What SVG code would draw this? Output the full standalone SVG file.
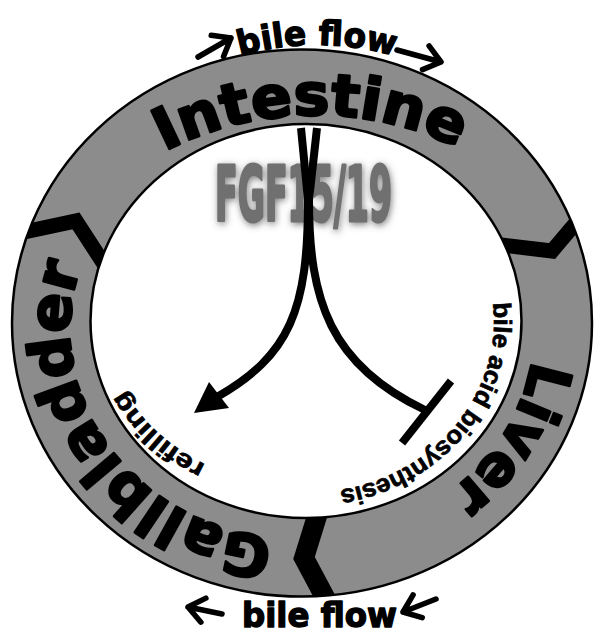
<svg xmlns="http://www.w3.org/2000/svg" width="598" height="634" viewBox="0 0 598 634">
<defs>
<style>
.ring{fill:#8c8c8c;stroke:#000;stroke-width:2.5;fill-rule:evenodd}
.chev{fill:none;stroke:#000;stroke-linejoin:miter;stroke-miterlimit:10}
.organ{font-family:"DejaVu Sans","Liberation Sans",sans-serif;font-weight:bold;font-size:58px;fill:#000;stroke:#000;stroke-width:2.6;stroke-linejoin:round}
.flow{font-family:"DejaVu Sans","Liberation Sans",sans-serif;font-weight:bold;font-size:34px;fill:#000;stroke:#000;stroke-width:1.4;stroke-linejoin:round}
.lab{font-family:"Liberation Sans",Arial,sans-serif;font-weight:bold;font-size:25px;fill:#000;stroke:#000;stroke-width:0.7}
.fgf{font-family:"DejaVu Sans Condensed","DejaVu Sans",sans-serif;font-weight:bold;font-size:76px;fill:#707070;stroke:#707070;stroke-width:3;stroke-linejoin:round}
.line{fill:none;stroke:#000;stroke-width:8}
.arr{fill:none;stroke:#000;stroke-width:5.5;stroke-linecap:round;stroke-linejoin:round}
</style>
<filter id="glow" x="-20%" y="-30%" width="140%" height="160%">
<feGaussianBlur in="SourceAlpha" stdDeviation="3.5"/>
<feOffset dx="1" dy="2" result="b"/>
<feFlood flood-color="#555" flood-opacity="0.75"/>
<feComposite in2="b" operator="in"/>
<feMerge><feMergeNode/><feMergeNode in="SourceGraphic"/></feMerge>
</filter>
<clipPath id="ringClip">
<path clip-rule="evenodd" d="M12,323 A290,273.5 0 1 1 592,323 A290,273.5 0 1 1 12,323 Z M90.5,321 A215.5,197 0 1 0 521.5,321 A215.5,197 0 1 0 90.5,321 Z"/>
</clipPath>
<path id="pIntestine" d="M150.5,159.1 A329,329 0 0 1 479.5,159.1"/>
<path id="pLiver" d="M533.1,348.3 A232,210 0 0 1 418,511.9"/>
<path id="pGall" d="M302,540 A232,210 0 0 1 84,258.2"/>
<path id="pBile" d="M491.1,291.1 A188,172 0 0 1 306,493"/>
<path id="pRefill" d="M237.6,477 A200,166 0 0 1 109,349.8"/>
<path id="pFlowTop" d="M215,63.9 A285,285 0 0 1 419,63.9"/>
</defs>

<g id="ring">
<path class="ring" d="M12,323 A290,273.5 0 1 1 592,323 A290,273.5 0 1 1 12,323 Z M90.5,321 A215.5,197 0 1 0 521.5,321 A215.5,197 0 1 0 90.5,321 Z"/>
<g clip-path="url(#ringClip)">
<polyline class="chev" stroke-width="15" points="5,236 76,221 115,281"/>
<polyline class="chev" stroke-width="15" points="485,243 552,251 602,192"/>
<polyline class="chev" stroke-width="20" points="322,500 304,558 336,618"/>
</g>
</g>

<g id="intestine">
<text class="organ"><textPath href="#pIntestine" startOffset="16" textLength="304" lengthAdjust="spacingAndGlyphs">Intestine</textPath></text>
</g>
<g id="liver">
<text class="organ"><textPath href="#pLiver" startOffset="12" textLength="158" lengthAdjust="spacingAndGlyphs">Liver</textPath></text>
</g>
<g id="gallbladder">
<text class="organ"><textPath href="#pGall" startOffset="28" textLength="384" lengthAdjust="spacingAndGlyphs">Gallbladder</textPath></text>
</g>

<g id="fgf">
<text class="fgf" x="215" y="221" textLength="177" lengthAdjust="spacingAndGlyphs" filter="url(#glow)">FGF15/19</text>
</g>

<g id="bile-acid">
<text class="lab"><textPath href="#pBile" startOffset="12" textLength="267" lengthAdjust="spacingAndGlyphs">bile acid biosynthesis</textPath></text>
</g>
<g id="refilling">
<text class="lab"><textPath href="#pRefill" startOffset="34" textLength="112" lengthAdjust="spacingAndGlyphs">refilling</textPath></text>
</g>

<g id="flow-top">
<text class="flow"><textPath href="#pFlowTop" startOffset="50%" text-anchor="middle" textLength="156" lengthAdjust="spacingAndGlyphs">bile flow</textPath></text>
<path class="arr" d="M198,57 L231,38 M211.2,35.3 L231,38 L223.5,56.6"/>
<path class="arr" d="M397,50 L441,62 M429.1,45.9 L441,62 L422.5,69.6"/>
</g>
<g id="flow-bottom">
<text class="flow" x="242" y="627" textLength="155" lengthAdjust="spacingAndGlyphs">bile flow</text>
<path class="arr" d="M222,614 L188,607 M200.9,622.2 L188,607 L205.9,598.1"/>
<path class="arr" d="M436,599 L403,612 M422.2,617.7 L403,612 L413.1,594.8"/>
</g>

<g id="connectors">
<path class="line" d="M301,128 L308,200 C308,310 290,355 217,397"/>
<polygon points="194,413 209,382 229,408" fill="#000"/>
<path class="line" d="M317,128 L309,200 C309,300 330,365 425,410"/>
<line class="line" x1="402" y1="443" x2="451" y2="381"/>
</g>
</svg>
